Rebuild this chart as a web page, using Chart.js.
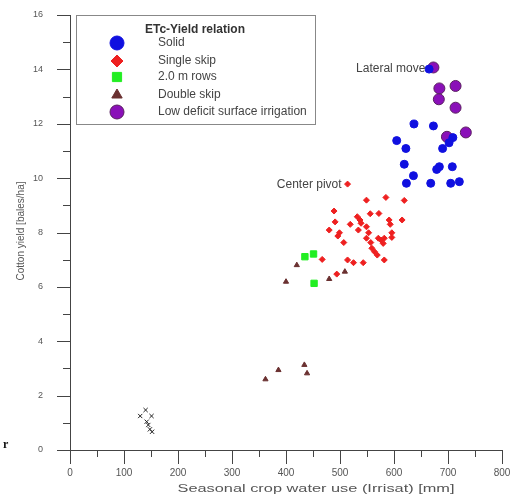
<!DOCTYPE html>
<html>
<head>
<meta charset="utf-8">
<script src="https://cdn.jsdelivr.net/npm/chart.js@4.4.1/dist/chart.umd.min.js"></script>
<style>
html,body{margin:0;padding:0;background:#fff;}
#wrap{width:520px;height:495px;position:relative;}
</style>
</head>
<body>
<div id="wrap"><canvas id="c" width="520" height="495"></canvas></div>
<script>
// ---- data (x: seasonal crop water use [mm], y: cotton yield) ----
const solid = [[665,14.01],[637,11.99],[673,11.92],[605,11.38],[622,11.09],[709,11.49],[702,11.30],[690,11.09],[619,10.51],[684,10.42],[679,10.32],[708,10.42],[636,10.09],[623,9.81],[668,9.81],[705,9.81],[721,9.87]];
const singleSkip = [[514,9.78],[549,9.19],[585,9.29],[619,9.18],[489,8.79],[556,8.69],[572,8.70],[491,8.39],[532,8.58],[537,8.46],[539,8.34],[519,8.30],[591,8.46],[593,8.30],[615,8.46],[549,8.21],[480,8.09],[499,7.99],[496,7.87],[534,8.09],[553,7.99],[596,7.99],[596,7.82],[571,7.79],[576,7.72],[582,7.79],[549,7.79],[507,7.63],[557,7.63],[580,7.60],[559,7.42],[564,7.29],[569,7.17],[467,7.01],[514,6.99],[525,6.89],[543,6.89],[582,6.99],[494,6.47]];
const rows2m = [[435,7.11],[451,7.21],[452,6.13]];
const doubleSkip = [[420,6.80],[400,6.19],[480,6.29],[509,6.56],[362,2.60],[386,2.94],[434,3.13],[439,2.82]];
const lowDeficit = [[673,14.07],[684,13.30],[714,13.39],[683,12.90],[714,12.59],[698,11.52],[733,11.68]];
const lowCluster = [[140,1.47],[130,1.25],[151,1.25],[142,1.04],[145,0.92],[148,0.76],[152,0.67]];
const xTicks = [0,100,200,300,400,500,600,700,800];
const yTicks = [0,2,4,6,8,10,12,14,16];
const legendTitle = "ETc-Yield relation";
const legendLabels = ["Solid","Single skip","2.0 m rows","Double skip","Low deficit surface irrigation"];
const notes = [{text:"Lateral move", at:[673,14.07]},{text:"Center pivot", at:[514,9.78]}];
const xTitle = "Seasonal crop water use (Irrisat) [mm]";
const yTitle = "Cotton yield [bales/ha]";

const toPts = a => a.map(p => ({x:p[0], y:p[1]}));

const styles = [
  {data:solid, pointStyle:'circle', radius:4, bg:'#1010e0', border:'#1010e0'},
  {data:singleSkip, pointStyle:'rectRot', radius:3, bg:'#ee2020', border:'#ee2020'},
  {data:rows2m, pointStyle:'rect', radius:4.5, bg:'#22ee22', border:'#22ee22'},
  {data:doubleSkip, pointStyle:'triangle', radius:3, bg:'#6a3030', border:'#6a3030'},
  {data:lowDeficit, pointStyle:'circle', radius:5.5, bg:'#8a10b8', border:'#5a2060'},
  {data:lowCluster, pointStyle:'crossRot', radius:3, bg:'#222', border:'#222'}
];

const datasets = styles.map((s,i) => ({
  label: legendLabels[i] || '',
  data: toPts(s.data),
  pointStyle: s.pointStyle,
  pointRadius: s.radius,
  backgroundColor: s.bg,
  borderColor: s.border,
  pointBorderWidth: 1,
  showLine:false
}));

const FONT = '"Liberation Sans", Arial, sans-serif';

const decor = {
  id:'decor',
  afterDraw(chart){
    const ctx = chart.ctx, xs = chart.scales.x, ys = chart.scales.y;
    const x0 = xs.getPixelForValue(0), y0 = ys.getPixelForValue(0);
    const xe = xs.getPixelForValue(800), ye = ys.getPixelForValue(16);
    ctx.save();
    ctx.strokeStyle = '#444'; ctx.lineWidth = 1;
    ctx.beginPath();
    ctx.moveTo(x0-13, Math.round(y0)+0.5); ctx.lineTo(xe, Math.round(y0)+0.5);
    ctx.moveTo(Math.round(x0)+0.5, ye); ctx.lineTo(Math.round(x0)+0.5, y0+13);
    for (let v=0; v<=800; v+=50){
      const px = Math.round(xs.getPixelForValue(v))+0.5;
      const len = (v%100===0)?14:7;
      ctx.moveTo(px, y0); ctx.lineTo(px, y0+len);
    }
    for (let v=0; v<=16; v+=1){
      const py = Math.round(ys.getPixelForValue(v))+0.5;
      const len = (v%2===0)?13:7;
      ctx.moveTo(x0, py); ctx.lineTo(x0-len, py);
    }
    ctx.stroke();

    // tick labels
    ctx.fillStyle = '#555';
    ctx.textBaseline = 'middle';
    ctx.textAlign = 'center';
    ctx.font = '10px ' + FONT;
    xTicks.forEach(v => ctx.fillText(String(v), xs.getPixelForValue(v), y0 + 23));
    ctx.textAlign = 'right';
    ctx.font = '9px ' + FONT;
    yTicks.forEach(v => ctx.fillText(String(v), x0 - 27, ys.getPixelForValue(v)));

    // axis titles
    ctx.textAlign = 'center';
    ctx.font = '10px ' + FONT;
    const w = ctx.measureText(xTitle).width;
    ctx.save();
    ctx.translate(316, 489);
    ctx.scale(277/w, 1);
    ctx.fillText(xTitle, 0, 0);
    ctx.restore();
    ctx.save();
    ctx.translate(21, 231);
    ctx.rotate(-Math.PI/2);
    ctx.font = '10px ' + FONT;
    ctx.fillText(yTitle, 0, 0);
    ctx.restore();

    // annotations
    ctx.font = '12px ' + FONT;
    ctx.fillStyle = '#444';
    ctx.textAlign = 'right';
    notes.forEach((n,i) => {
      const px = xs.getPixelForValue(n.at[0]), py = ys.getPixelForValue(n.at[1]);
      ctx.fillText(n.text, px - (i===0?8:6), py + 1);
    });

    // stray mark
    ctx.fillStyle = '#111';
    ctx.textAlign = 'left';
    ctx.font = 'bold 12px "Liberation Serif", serif';
    ctx.fillText('r', 3, 445);

    // legend box
    const lx = 76, ly = 15, lw = 239, lh = 109;
    ctx.fillStyle = '#fff';
    ctx.fillRect(lx, ly, lw, lh);
    ctx.strokeStyle = '#888';
    ctx.strokeRect(lx+0.5, ly+0.5, lw, lh);
    ctx.fillStyle = '#333';
    ctx.textAlign = 'center';
    ctx.font = 'bold 12px ' + FONT;
    ctx.fillText(legendTitle, 195, 30);
    ctx.font = '12px ' + FONT;
    ctx.textAlign = 'left';
    const rowsY = [43, 61, 77, 95, 112];
    const legR = [7, 6, 6.5, 6, 7];
    legendLabels.forEach((lab,i) => {
      const s = styles[i];
      ctx.fillStyle = '#444';
      ctx.fillText(lab, 158, rowsY[i]);
      ctx.fillStyle = s.bg; ctx.strokeStyle = s.border; ctx.lineWidth = 1;
      Chart.helpers.drawPoint(ctx, {pointStyle:s.pointStyle, radius:legR[i], borderWidth:1, rotation:0}, 117, rowsY[i]);
    });
    ctx.restore();
  }
};

new Chart(document.getElementById('c'), {
  type:'scatter',
  data:{datasets},
  options:{
    responsive:false,
    animation:false,
    events:[],
    layout:{padding:{top:15, right:18, left:0, bottom:0}, autoPadding:false},
    plugins:{legend:{display:false}, tooltip:{enabled:false}},
    scales:{
      x:{
        type:'linear', min:0, max:800,
        grid:{display:false, drawTicks:false},
        border:{display:false},
        ticks:{display:false},
        afterFit(s){ s.height = 45; }
      },
      y:{
        type:'linear', min:0, max:16,
        grid:{display:false, drawTicks:false},
        border:{display:false},
        ticks:{display:false},
        afterFit(s){ s.width = 70; }
      }
    }
  },
  plugins:[decor]
});
</script>
</body>
</html>
